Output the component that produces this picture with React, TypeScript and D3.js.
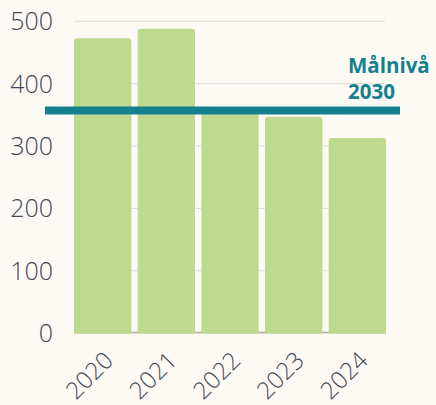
import React from "react";
import * as d3 from "d3";

const years = ["2020", "2021", "2022", "2023", "2024"];
const values = [473, 488, 356, 347, 313];
const yTicks = [0, 100, 200, 300, 400, 500];
const targetValue = 357;
const targetLabel = ["Målnivå", "2030"];

const W = 436;
const H = 405;

export default function App() {
  const x = d3.scaleBand<string>().domain(years).range([74, 386]).paddingInner(0.1).paddingOuter(0);
  const y = d3.scaleLinear().domain([0, 500]).range([333, 21.3]);
  const r = 3;
  const barPath = (xs: number, w: number, yt: number, yb: number) =>
    `M${xs},${yb}V${yt + r}Q${xs},${yt} ${xs + r},${yt}H${xs + w - r}Q${xs + w},${yt} ${xs + w},${yt + r}V${yb}Z`;
  const tickFont = "'Open Sans', 'Lato', sans-serif";
  return (
    <svg width={W} height={H} style={{ position: "absolute", left: 0, top: 0 }}>
      <rect x={0} y={0} width={W} height={H} fill="#fdfaf5" />
      {yTicks.filter((t) => t > 0).map((t) => (
        <line key={"g" + t} x1={74} x2={385} y1={y(t)} y2={y(t)} stroke="#dedbd8" strokeWidth={1} />
      ))}
      <line x1={74} x2={386} y1={y(0) - 0.5} y2={y(0) - 0.5} stroke="#a9a9a9" strokeWidth={1.5} />
      {years.map((yr, i) => (
        <path key={yr} d={barPath(x(yr)!, x.bandwidth(), y(values[i]), y(0) + 0.7)} fill="#bfda8f" />
      ))}
      {yTicks.map((t) => (
        <text key={"t" + t} x={53} y={y(t)} dy="0.36em" textAnchor="end" fontFamily={tickFont} fontWeight={300} fontSize={25} fill="#434857">
          {t}
        </text>
      ))}
      {years.map((yr) => (
        <text
          key={"x" + yr}
          transform={`translate(${x(yr)! + x.bandwidth() / 2 + 12},362) rotate(-45)`}
          textAnchor="end"
          fontFamily={tickFont}
          fontWeight={300}
          fontSize={24}
          fill="#434857"
        >
          {yr}
        </text>
      ))}
      <line x1={45} x2={400} y1={y(targetValue)} y2={y(targetValue)} stroke="#15808e" strokeWidth={8} />
      {targetLabel.map((s, i) => (
        <text key={s} x={348} y={73 + i * 25.5} fontFamily="'Open Sans', sans-serif" fontWeight={700} fontSize={20.5} fill="#15808e">
          {s}
        </text>
      ))}
    </svg>
  );
}
